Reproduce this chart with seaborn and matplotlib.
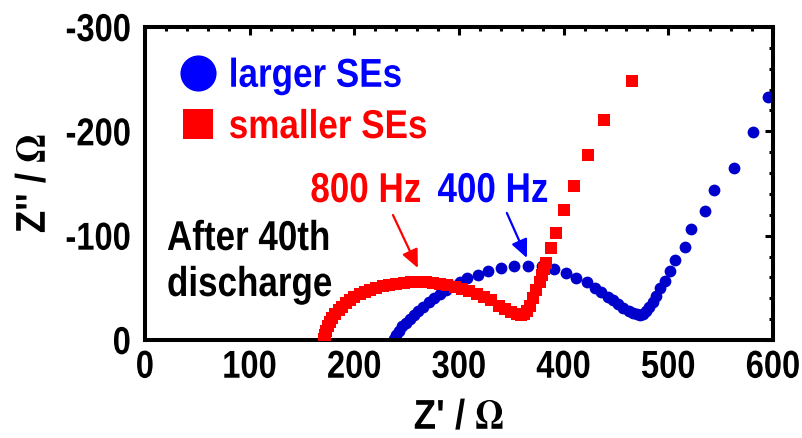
import matplotlib
matplotlib.use("Agg")
import matplotlib.pyplot as plt
import seaborn as sns
import pandas as pd
from matplotlib.lines import Line2D
from matplotlib.ticker import MultipleLocator
from matplotlib.patheffects import AbstractPathEffect
from matplotlib.transforms import Affine2D

# ---- data ----
larger_x = [238, 240, 243, 246, 249, 253, 257, 261, 266, 271, 276, 282, 288, 294,
            301, 308, 318, 328, 340, 353, 366, 379, 391, 402, 412, 422, 430, 436,
            442, 447, 452, 457, 462, 466, 470, 473, 476, 479, 482, 485, 488, 492,
            496.7, 501.4, 506.2, 515.8, 522, 535, 543.8, 562.9, 581, 595.3]
larger_y = [-1, -5, -9, -13, -16, -20, -24, -28, -32, -36, -40, -44, -48, -52,
            -56, -59.5, -62, -66, -69, -70.5, -71, -70.5, -68, -64, -59, -56, -49.5, -45.6,
            -41.5, -38, -34.5, -31, -28, -26, -24.5, -24, -25, -28, -32, -36, -42, -49.6,
            -56.6, -66.2, -76.7, -88.9, -106.4, -124, -143.8, -165.2, -199, -232.7]

smaller_x = [171, 172, 173, 175, 177, 179, 182, 185, 188, 192, 196, 200, 205, 210,
             215, 221, 227, 233, 240, 247, 254, 261, 268, 275, 282, 289, 296, 303,
             310, 317, 324, 331, 338, 344, 350, 355, 359, 362, 365, 368, 371, 374,
             377, 379, 381, 382.7, 387.8, 392.6, 400.5, 410, 423.5, 438.7, 465.4]
smaller_y = [-1, -5, -9, -13, -17, -21, -25, -29, -32, -35, -38, -41, -44, -46,
             -48, -50, -52, -53, -54, -55, -55.5, -56, -55.5, -55, -54, -53, -51, -49,
             -47, -44, -41, -38, -33, -30, -27, -25, -24, -25, -28, -33, -40, -48,
             -56, -62, -68, -74, -88.5, -103, -124.6, -148, -177.7, -211, -248]

series_labels = ["larger SEs", "smaller SEs"]
freq_labels = ["800 Hz", "400 Hz"]
note_lines = ["After 40th", "discharge"]
x_ticks = [0, 100, 200, 300, 400, 500, 600]
y_ticks = [0, -100, -200, -300]

BLUE_PT = "#0000CD"
BLUE = "#0000FF"
RED = "#FF0000"


class Squeeze(AbstractPathEffect):
    """Draw text glyphs horizontally condensed (narrow bold look)."""

    def __init__(self, sx=0.85, align="center"):
        super().__init__(offset=(0, 0))
        self.sx = sx
        self.frac = {"left": 0.0, "center": 0.5, "right": 1.0}[align]

    def draw_path(self, renderer, gc, tpath, affine, rgbFace=None):
        w = tpath.get_extents().x1
        shift = self.frac * (1.0 - self.sx) * w
        aff = Affine2D().scale(self.sx, 1.0).translate(shift, 0) + affine
        renderer.draw_path(gc, tpath, aff, rgbFace)


sns.set_theme(style="white")
plt.rcParams['font.family'] = ['Liberation Sans', 'DejaVu Sans']
plt.rcParams['font.weight'] = 'bold'
plt.rcParams['axes.labelweight'] = 'bold'
plt.rcParams['axes.unicode_minus'] = False
plt.rcParams['mathtext.fontset'] = 'stix'
plt.rcParams['text.color'] = 'black'
plt.rcParams['axes.labelcolor'] = 'black'
plt.rcParams['xtick.color'] = 'black'
plt.rcParams['ytick.color'] = 'black'

df_l = pd.DataFrame({"Zr": larger_x, "Zi": larger_y})
df_s = pd.DataFrame({"Zr": smaller_x, "Zi": smaller_y})

fig = plt.figure(figsize=(8.03, 4.38), dpi=100)
ax = fig.add_axes([145 / 803, 98 / 438, 628 / 803, 313 / 438])

sns.scatterplot(data=df_s, x="Zr", y="Zi", ax=ax, marker="s", s=72,
                color=RED, linewidth=0, legend=False, zorder=3)
sns.scatterplot(data=df_l, x="Zr", y="Zi", ax=ax, marker="o", s=72,
                color=BLUE_PT, linewidth=0, legend=False, zorder=2)

ax.set_xlim(0, 600)
ax.set_ylim(0, -300)
ax.set_xticks(x_ticks)
ax.set_yticks(y_ticks)
ax.xaxis.set_minor_locator(MultipleLocator(20))
ax.yaxis.set_minor_locator(MultipleLocator(20))
ax.tick_params(which="both", direction="in", top=True, right=True,
               width=2.2, color="black", labelcolor="black")
ax.tick_params(which="major", length=5.5)
ax.tick_params(which="minor", length=3)
ax.tick_params(axis="x", labelsize=28, pad=7)
ax.tick_params(axis="y", labelsize=28, pad=10)
for sp in ax.spines.values():
    sp.set_linewidth(2.9)
    sp.set_color("black")
    sp.set_visible(True)
ax.grid(False)

for t in ax.get_xticklabels():
    t.set_path_effects([Squeeze(0.84, "center")])
for t in ax.get_yticklabels():
    t.set_path_effects([Squeeze(0.84, "right")])

ax.set_xlabel("Z' / $\\Omega$", fontsize=30, fontweight="bold")
ax.set_ylabel("Z'' / $\\Omega$", fontsize=30, fontweight="bold")
ax.xaxis.set_label_coords(0.5, (340 - 429) / 313)
ax.xaxis.label.set_va("baseline")
ax.yaxis.set_label_coords((45 - 145) / 628, 0.5)
ax.yaxis.label.set_va("baseline")
ax.xaxis.label.set_path_effects([Squeeze(0.88, "center")])
ax.yaxis.label.set_path_effects([Squeeze(0.88, "center")])

# legend
handles = [
    Line2D([], [], marker="o", linestyle="none", markersize=26,
           markerfacecolor=BLUE, markeredgewidth=0),
    Line2D([], [], marker="s", linestyle="none", markersize=22,
           markerfacecolor=RED, markeredgewidth=0),
]
leg = ax.legend(handles, series_labels, loc="upper left", bbox_to_anchor=(0.007, 0.995),
                frameon=False, fontsize=29, labelcolor=[BLUE, RED],
                handlelength=1.0, handletextpad=0.27, labelspacing=0.33,
                borderaxespad=0.3)
for t in leg.get_texts():
    t.set_path_effects([Squeeze(0.87, "left")])

# annotations
sq = [Squeeze(0.84, "center")]
ax.text(211, -132.3, freq_labels[0], color=RED, ha="center", va="baseline",
        fontsize=30, path_effects=sq)
ax.text(332.4, -132.3, freq_labels[1], color=BLUE, ha="center", va="baseline",
        fontsize=30, path_effects=sq)
ax.annotate("", xy=(260.7, -69), xytext=(236.9, -119.8),
            arrowprops=dict(arrowstyle="-|>,head_length=1.1,head_width=0.5",
                            color=RED, lw=1.6, mutation_scale=10,
                            shrinkA=0, shrinkB=0))
ax.annotate("", xy=(364.9, -78.6), xytext=(345.7, -121.8),
            arrowprops=dict(arrowstyle="-|>,head_length=1.1,head_width=0.5",
                            color=BLUE, lw=1.6, mutation_scale=10,
                            shrinkA=0, shrinkB=0))
sql = [Squeeze(0.84, "left")]
ax.text(21, -86.3, note_lines[0], color="black", ha="left", va="baseline",
        fontsize=30, path_effects=sql)
ax.text(21, -42.2, note_lines[1], color="black", ha="left", va="baseline",
        fontsize=30, path_effects=sql)

fig.savefig("out.png", dpi=100)
